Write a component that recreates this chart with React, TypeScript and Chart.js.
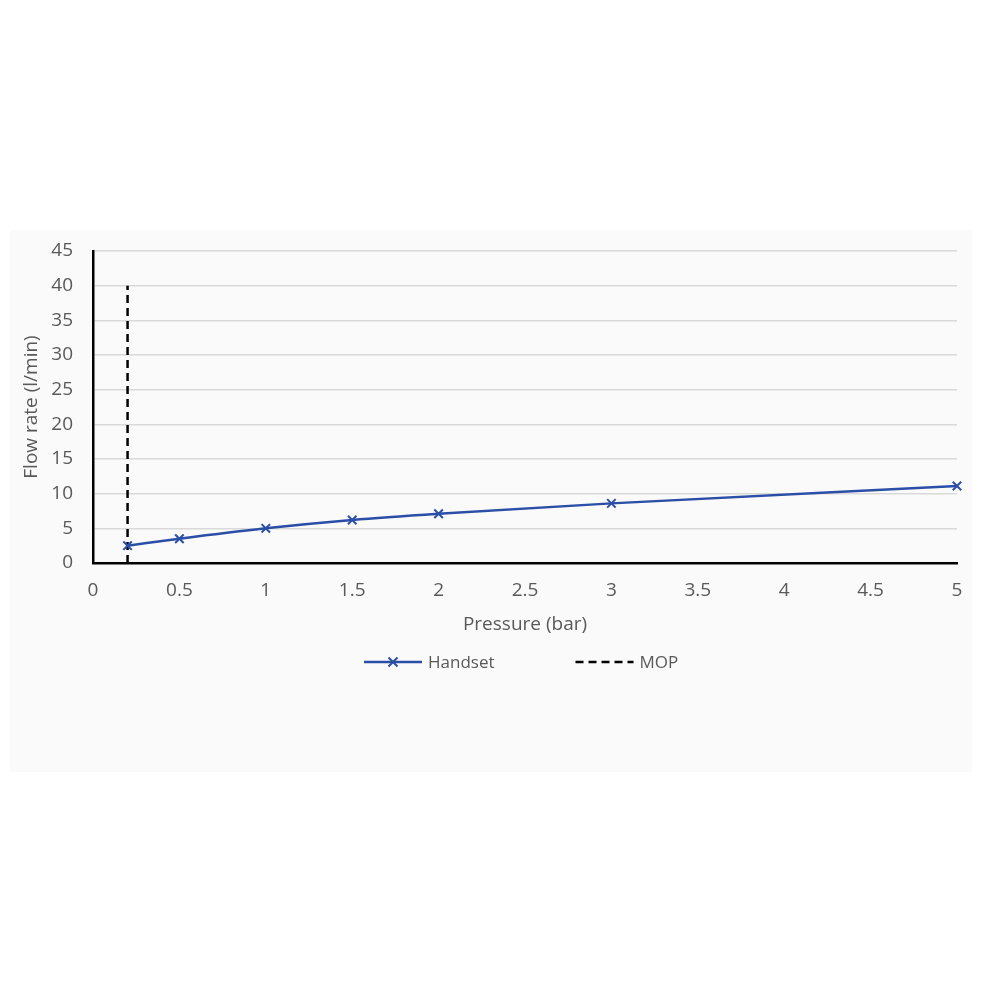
import React, { useEffect, useRef } from "react";
import { Chart, registerables } from "chart.js";

Chart.register(...registerables);

const pressure = [0.2, 0.5, 1, 1.5, 2, 3, 5];
const handsetFlow = [2.5, 3.5, 5.0, 6.2, 7.1, 8.6, 11.1];
const mopPressure = [0.2, 0.2];
const mopFlow = [0, 40];
const seriesNames = ["Handset", "MOP"];
const xTitle = "Pressure (bar)";
const yTitle = "Flow rate (l/min)";

const FONT = "'Open Sans', 'Noto Sans', sans-serif";
const TEXT = "#595959";
const BLUE = "#2B4EA6";

const legendPlugin = {
  id: "excelLegend",
  afterDraw(chart: any) {
    const ctx = chart.ctx;
    const area = chart.chartArea;
    const y = area.bottom + 99;
    let x = area.left + 271;
    ctx.save();
    ctx.font = `17px ${FONT}`;
    ctx.textBaseline = "middle";
    ctx.fillStyle = TEXT;
    chart.data.datasets.forEach((ds: any) => {
      ctx.save();
      ctx.strokeStyle = ds.borderColor;
      ctx.lineWidth = ds.borderWidth;
      ctx.setLineDash(ds.borderDash || []);
      ctx.beginPath();
      ctx.moveTo(x, y);
      ctx.lineTo(x + 58, y);
      ctx.stroke();
      if (ds.pointRadius > 0) {
        const cx = x + 29;
        const r = 4.5;
        ctx.setLineDash([]);
        ctx.lineWidth = 2;
        ctx.beginPath();
        ctx.moveTo(cx - r, y - r);
        ctx.lineTo(cx + r, y + r);
        ctx.moveTo(cx + r, y - r);
        ctx.lineTo(cx - r, y + r);
        ctx.stroke();
      }
      ctx.restore();
      ctx.fillStyle = TEXT;
      ctx.textAlign = "left";
      ctx.fillText(ds.label, x + 64, y + 1);
      const w = ctx.measureText(ds.label).width;
      x += 64 + w + 81;
    });
    ctx.restore();
  },
};

export default function App() {
  const ref = useRef<HTMLCanvasElement>(null);
  useEffect(() => {
    if (!ref.current) return;
    const chart = new Chart(ref.current, {
      type: "line",
      data: {
        datasets: [
          {
            label: seriesNames[0],
            data: pressure.map((p, i) => ({ x: p, y: handsetFlow[i] })),
            borderColor: BLUE,
            backgroundColor: BLUE,
            borderWidth: 2.5,
            pointStyle: "crossRot",
            pointRadius: 6,
            pointBorderWidth: 2,
            pointBorderColor: BLUE,
            cubicInterpolationMode: "monotone",
            fill: false,
            clip: false,
          },
          {
            label: seriesNames[1],
            data: mopPressure.map((p, i) => ({ x: p, y: mopFlow[i] })),
            borderColor: "#000000",
            backgroundColor: "#000000",
            borderWidth: 2.5,
            borderDash: [8, 5],
            pointRadius: 0,
            fill: false,
          },
        ],
      },
      options: {
        animation: false,
        responsive: false,
        layout: { padding: { left: 10, right: 43, top: 251, bottom: 364 } },
        plugins: {
          legend: { display: false },
          tooltip: { enabled: false },
        },
        scales: {
          x: {
            type: "linear",
            min: 0,
            max: 5,
            ticks: {
              stepSize: 0.5,
              color: TEXT,
              font: { family: FONT, size: 19 },
              padding: 16,
              maxRotation: 0,
              callback: (v: any) => String(Number(v)),
            },
            grid: { display: false, drawTicks: false },
            border: { color: "#000000", width: 2.5 },
            title: {
              display: true,
              text: xTitle,
              color: TEXT,
              font: { family: FONT, size: 19 },
              padding: { top: 0, bottom: 0 },
            },
            afterFit: (s: any) => {
              s.height = 73;
            },
          },
          y: {
            min: 0,
            max: 45,
            ticks: {
              stepSize: 5,
              color: TEXT,
              font: { family: FONT, size: 19 },
              padding: 20,
            },
            grid: { color: "#d9d9d9", lineWidth: 1.5, drawTicks: false },
            border: { color: "#000000", width: 2.5 },
            title: {
              display: true,
              text: yTitle,
              color: TEXT,
              font: { family: FONT, size: 19 },
              padding: { top: 10, bottom: 0 },
            },
            afterFit: (s: any) => {
              s.width = 83;
            },
          },
        },
      },
      plugins: [legendPlugin],
    });
    return () => chart.destroy();
  }, []);

  return (
    <div style={{ position: "absolute", left: 0, top: 0, width: 1000, height: 1000, background: "#ffffff" }}>
      <div
        style={{
          position: "absolute",
          left: 10,
          top: 230,
          width: 962,
          height: 542,
          background: "#fafafa",
        }}
      />
      <canvas
        ref={ref}
        width={1000}
        height={1000}
        style={{ position: "absolute", left: 0, top: 0, width: 1000, height: 1000 }}
      />
    </div>
  );
}
